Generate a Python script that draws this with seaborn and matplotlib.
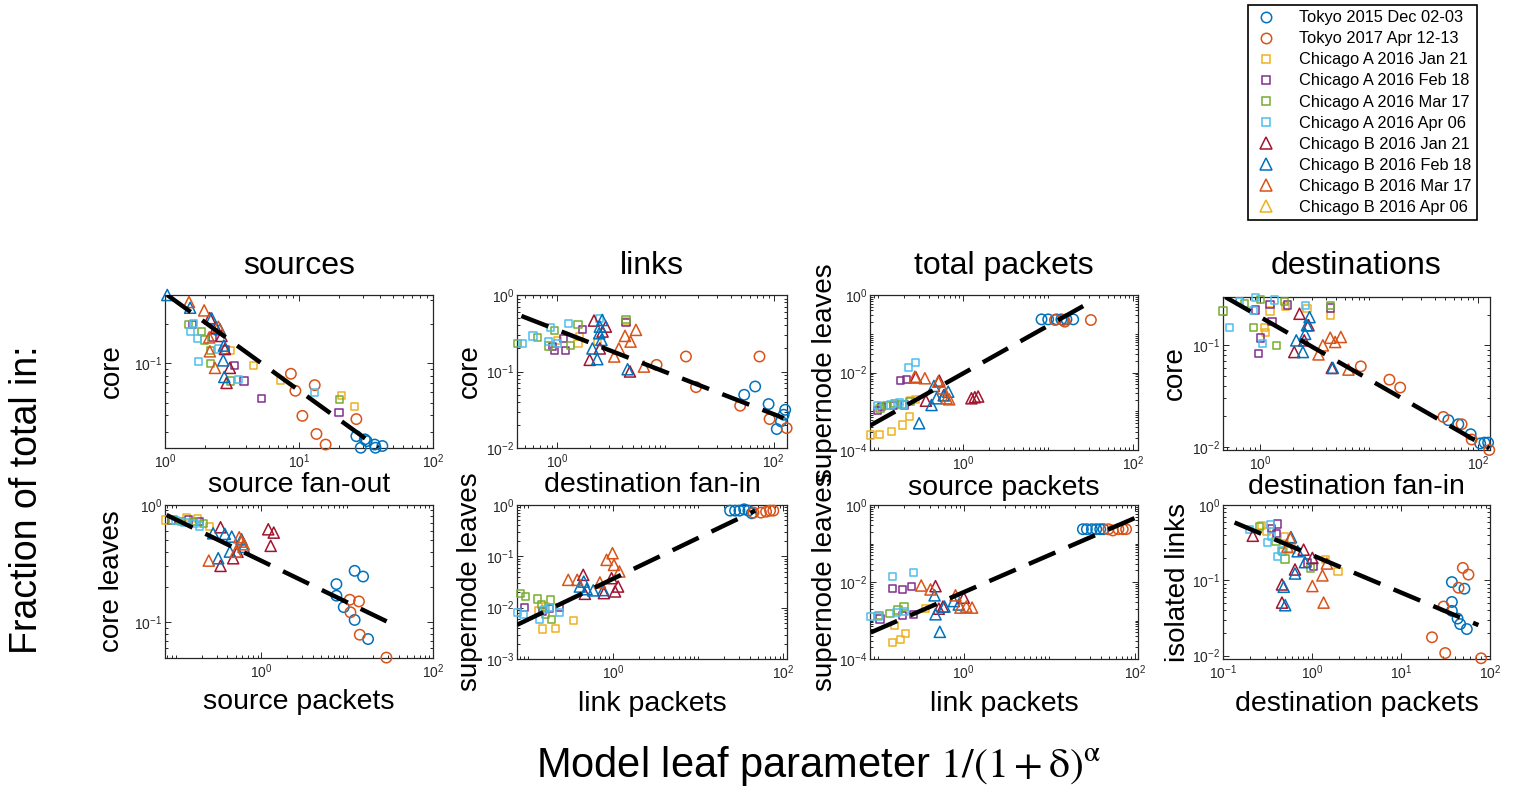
import numpy as np
import matplotlib
matplotlib.use("Agg")
import matplotlib.pyplot as plt
from matplotlib.lines import Line2D
from matplotlib.ticker import FixedLocator, LogLocator, FuncFormatter, NullFormatter
import seaborn as sns

sns.set_style("ticks")
plt.rcParams["font.family"] = ["Liberation Sans", "DejaVu Sans"]
plt.rcParams["mathtext.fontset"] = "custom"
plt.rcParams["mathtext.rm"] = "Liberation Sans"
plt.rcParams["mathtext.it"] = "Liberation Sans:italic"
plt.rcParams["mathtext.bf"] = "Liberation Sans:bold"
plt.rcParams["text.color"] = "black"
plt.rcParams["axes.labelcolor"] = "black"

# ---------------------------------------------------------------- series
SERIES = ["T15", "T17", "AJan", "AFeb", "AMar", "AApr", "BJan", "BFeb", "BMar", "BApr"]
LABELS = {
    "T15": "Tokyo 2015 Dec 02-03", "T17": "Tokyo 2017 Apr 12-13",
    "AJan": "Chicago A 2016 Jan 21", "AFeb": "Chicago A 2016 Feb 18",
    "AMar": "Chicago A 2016 Mar 17", "AApr": "Chicago A 2016 Apr 06",
    "BJan": "Chicago B 2016 Jan 21", "BFeb": "Chicago B 2016 Feb 18",
    "BMar": "Chicago B 2016 Mar 17", "BApr": "Chicago B 2016 Apr 06",
}
COLORS = {
    "T15": "#0072BD", "T17": "#D95319",
    "AJan": "#EDB120", "AFeb": "#7E2F8E", "AMar": "#77AC30", "AApr": "#4DBEEE",
    "BJan": "#A2142F", "BFeb": "#0072BD", "BMar": "#D95319", "BApr": "#EDB120",
}
MARKERS = {k: ("o" if k.startswith("T") else "s" if k.startswith("A") else "^") for k in SERIES}
SIZES = {"o": 56, "s": 27, "^": 64}

# ---------------------------------------------------------------- data
# sources: core vs source fan-out
src_core = {
    "T15": ([26.8, 31, 36.7, 28.9, 37.2, 41.9, 32], [0.0278, 0.0263, 0.024, 0.0227, 0.0227, 0.0234, 0.0255]),
    "T17": ([8.7, 9.4, 13.1, 10.6, 13.5, 15.8, 26.8], [0.083, 0.0616, 0.068, 0.0397, 0.0289, 0.024, 0.0375]),
    "AJan": ([3.1, 4.55, 7.28, 20.7, 26.1], [0.125, 0.096, 0.074, 0.057, 0.0467]),
    "AFeb": ([1.6, 2.27, 2.8, 3.32, 3.88, 5.25, 19.9], [0.197, 0.157, 0.126, 0.096, 0.073, 0.054, 0.042]),
    "AMar": ([1.49, 1.88, 1.96, 2.19, 2.2, 3.09, 20.1], [0.197, 0.174, 0.15, 0.125, 0.1, 0.073, 0.053]),
    "AApr": ([1.64, 1.56, 1.75, 1.79, 2.5, 3.52, 13.1], [0.2, 0.175, 0.155, 0.103, 0.128, 0.075, 0.0594]),
    "BJan": ([2.16, 2.4, 2.64, 2.8, 3.05, 2.88], [0.22, 0.186, 0.161, 0.128, 0.092, 0.0707]),
    "BFeb": ([1.04, 1.54, 2.23, 2.57, 2.75, 2.72, 2.77], [0.33, 0.264, 0.219, 0.181, 0.136, 0.105, 0.0785]),
    "BMar": ([1.51, 1.96, 2.5, 2.14, 2.16, 2.36], [0.292, 0.252, 0.189, 0.157, 0.123, 0.092]),
}
src_core_fit = ([1.04, 38.9], [0.33, 0.0227])

# links: core vs destination fan-in
lnk_core = {
    "T15": ([53.5, 67.6, 89.9, 107, 117, 124, 128], [0.0496, 0.0637, 0.0375, 0.0177, 0.0223, 0.0272, 0.0316]),
    "T17": ([8.3, 15.5, 19.2, 49.1, 74.1, 91.8, 132], [0.122, 0.157, 0.0625, 0.0357, 0.157, 0.0239, 0.0182]),
    "AJan": ([1.0, 1.62, 2.35, 4.32, 1.56], [0.254, 0.29, 0.246, 0.45, 0.234]),
    "AFeb": ([0.95, 1.2, 1.15, 1.72, 4.32, 0.9], [0.19, 0.188, 0.272, 0.35, 0.436, 0.212]),
    "AMar": ([0.43, 0.66, 0.94, 0.83, 1.34, 1.56, 4.32], [0.234, 0.28, 0.343, 0.216, 0.22, 0.414, 0.48]),
    "AApr": ([0.477, 0.6, 0.87, 0.83, 1.0, 1.28, 2.48], [0.23, 0.292, 0.379, 0.246, 0.234, 0.427, 0.496]),
    "BJan": ([2.0, 2.19, 2.48, 2.82, 4.71, 2.63], [0.142, 0.463, 0.2, 0.386, 0.1, 0.333]),
    "BFeb": ([2.35, 2.12, 2.45, 2.61, 2.57, 4.48, 2.48], [0.145, 0.2, 0.316, 0.472, 0.259, 0.107, 0.386]),
    "BMar": ([3.37, 3.72, 4.24, 4.77, 5.35, 6.34], [0.157, 0.2, 0.292, 0.246, 0.35, 0.116]),
}
lnk_core_fit = ([0.468, 124], [0.532, 0.0246])

# total packets: supernode leaves vs source packets
pkt_super = {
    "T15": ([8.35, 10, 12.5, 14.3, 16.4, 19.7], [0.235, 0.235, 0.235, 0.235, 0.235, 0.235]),
    "T17": ([12, 15, 15.7, 31.8], [0.226, 0.226, 0.205, 0.226]),
    "AJan": ([0.0805, 0.103, 0.144, 0.191, 0.231, 0.24, 0.277], [2.44e-4, 2.5e-4, 2.97e-4, 4.42e-4, 7.24e-4, 1.87e-3, 2.03e-3]),
    "AFeb": ([0.0973, 0.11, 0.15, 0.183, 0.202, 0.215], [1.03e-3, 1.3e-3, 1.38e-3, 6.15e-3, 1.45e-3, 6.67e-3]),
    "AMar": ([0.105, 0.125, 0.157, 0.19, 0.236], [1.19e-3, 1.38e-3, 1.6e-3, 1.5e-3, 1.8e-3]),
    "AApr": ([0.097, 0.14, 0.177, 0.2, 0.225, 0.277], [1.38e-3, 1.45e-3, 1.7e-3, 1.45e-3, 0.0136, 0.018]),
    "BJan": ([0.277, 0.364, 0.522, 0.59, 1.25, 1.37, 1.5], [7.5e-3, 1.87e-3, 6.15e-3, 2.6e-3, 2.16e-3, 2.3e-3, 2.4e-3]),
    "BFeb": ([0.303, 0.424, 0.452, 0.485, 0.666, 0.6], [4.9e-4, 1.45e-3, 4.5e-3, 2.16e-3, 3.2e-3, 2.6e-3]),
    "BMar": ([0.27, 0.354, 0.508, 0.572, 0.637, 0.684], [7.8e-3, 7.1e-3, 5.8e-3, 3.9e-3, 2.16e-3, 2.03e-3]),
}
pkt_super_fit = ([0.08, 30.4], [4.25e-4, 0.634])

# destinations: core vs destination fan-in
dst_core = {
    "T15": ([53.1, 65.6, 85.1, 104, 114, 123], [0.0183, 0.0167, 0.0133, 0.0108, 0.011, 0.011]),
    "T17": ([8.36, 15.3, 19.2, 47.8, 70.3, 86.9, 126], [0.0621, 0.0459, 0.0384, 0.0197, 0.0167, 0.0118, 0.0093]),
    "AJan": ([1.1, 1.11, 1.23, 1.69, 2.68, 4.38], [0.151, 0.135, 0.218, 0.242, 0.23, 0.197]),
    "AFeb": ([0.906, 1.01, 0.97, 1.23, 1.28, 1.78, 4.43], [0.223, 0.118, 0.083, 0.253, 0.173, 0.25, 0.234]),
    "AMar": ([0.455, 0.713, 1.0, 0.87, 1.4, 1.67, 4.38], [0.218, 0.261, 0.283, 0.151, 0.1, 0.273, 0.247]),
    "AApr": ([0.52, 0.647, 0.906, 0.87, 1.04, 1.34, 2.62], [0.151, 0.273, 0.294, 0.221, 0.104, 0.28, 0.247]),
    "BJan": ([2.05, 2.29, 2.53, 2.77, 4.53], [0.086, 0.205, 0.112, 0.158, 0.06]),
    "BFeb": ([2.14, 2.46, 2.58, 2.68, 2.83, 4.63], [0.112, 0.086, 0.13, 0.158, 0.19, 0.06]),
    "BMar": ([3.42, 3.75, 4.38, 4.86, 5.48, 6.44], [0.0815, 0.1, 0.119, 0.108, 0.121, 0.0577]),
}
dst_core_fit = ([0.478, 126], [0.30, 0.00964])

# core leaves vs source packets
src_leaves = {
    "T15": ([7.48, 7.48, 9.1, 12.2, 12.2, 15.3, 17.5], [0.212, 0.169, 0.135, 0.275, 0.105, 0.246, 0.0722]),
    "T17": ([10.7, 10.9, 13.7, 14, 28.6], [0.156, 0.122, 0.151, 0.0786, 0.0502]),
    "AJan": ([0.0755, 0.134, 0.178, 0.25], [0.746, 0.786, 0.77, 0.655]),
    "AFeb": ([0.0895, 0.14, 0.19], [0.736, 0.746, 0.72]),
    "AMar": ([0.093, 0.117, 0.16, 0.21], [0.746, 0.72, 0.72, 0.699]),
    "AApr": ([0.1, 0.128, 0.19, 0.167], [0.736, 0.71, 0.663, 0.699]),
    "BJan": ([0.333, 0.333, 0.468, 1.2, 1.39, 1.28, 0.525], [0.646, 0.303, 0.352, 0.621, 0.582, 0.449, 0.4]),
    "BFeb": ([0.313, 0.273, 0.374, 0.428, 0.45, 0.585, 0.62], [0.352, 0.574, 0.567, 0.401, 0.538, 0.51, 0.44]),
    "BMar": ([0.243, 0.502, 0.55, 0.585, 0.623], [0.336, 0.4, 0.531, 0.488, 0.463]),
}
src_leaves_fit = ([0.0782, 34.8], [0.822, 0.0955])

# supernode leaves vs link packets (links column)
lnk_super = {
    "T15": ([23.6, 27.0, 30.4, 34.5, 38.7, 42.4], [0.776, 0.776, 0.776, 0.824, 0.776, 0.689]),
    "T17": ([44.4, 54.3, 62.5, 69.6, 76.0], [0.71, 0.71, 0.74, 0.776, 0.776]),
    "AJan": ([0.134, 0.148, 0.161, 0.211, 0.338], [8.8e-3, 3.83e-3, 0.0106, 3.98e-3, 5.56e-3]),
    "AFeb": ([0.091, 0.148, 0.18, 0.236], [0.0102, 8.4e-3, 9.8e-3, 0.0102]),
    "AMar": ([0.0813, 0.094, 0.128, 0.185, 0.161, 0.19, 0.144], [0.0186, 0.0165, 0.0147, 0.0141, 7.27e-3, 5.8e-3, 0.0114]),
    "AApr": ([0.075, 0.089, 0.135, 0.157, 0.18, 0.236], [8.07e-3, 7.27e-3, 6e-3, 9.1e-3, 0.0102, 8.07e-3]),
    "BJan": ([0.444, 0.464, 0.955, 1.05, 1.14, 0.777], [0.0436, 0.0186, 0.0375, 0.0207, 0.0258, 0.0192]),
    "BFeb": ([0.405, 0.45, 0.486, 0.582, 0.763], [0.0258, 0.0322, 0.0229, 0.0217, 0.022]),
    "BMar": ([0.296, 0.377, 0.835, 0.98, 1.02, 1.18, 0.697], [0.0348, 0.0348, 0.0853, 0.115, 0.068, 0.0506, 0.031]),
}
lnk_super_fit = ([0.0742, 46.4], [4.64e-3, 0.776])

# supernode leaves vs link packets (total packets column)
pkt_lnk_super = {
    "T15": ([24.7, 27.5, 31.5, 35.4, 39.4, 43.1], [0.235, 0.235, 0.235, 0.235, 0.235, 0.235]),
    "T17": ([49.1, 55.3, 64.3, 72.3, 79.1], [0.235, 0.218, 0.235, 0.235, 0.235]),
    "AJan": ([0.146, 0.155, 0.182, 0.209, 0.357], [2.7e-4, 7.5e-4, 3.16e-4, 4.7e-4, 2.03e-3]),
    "AFeb": ([0.105, 0.146, 0.19, 0.245, 0.19, 0.256], [1.1e-3, 6.67e-3, 6.4e-3, 7.5e-3, 1.38e-3, 1.45e-3]),
    "AMar": ([0.102, 0.137, 0.17, 0.2], [1.38e-3, 1.54e-3, 1.87e-3, 2.3e-3]),
    "AApr": ([0.081, 0.099, 0.146, 0.164, 0.256, 0.2], [1.26e-3, 1.3e-3, 0.0136, 1.6e-3, 0.018, 1.7e-3]),
    "BJan": ([0.467, 0.51, 1.0, 0.57], [7.8e-3, 2.03e-3, 3.9e-3, 2.3e-3]),
    "BFeb": ([0.455, 0.467, 0.524, 0.595, 0.764, 0.874], [4.5e-3, 1.45e-3, 5.07e-4, 2.3e-3, 3.2e-3, 2.6e-3]),
    "BMar": ([0.318, 0.408, 0.8, 0.914, 1.07, 1.25], [8.1e-3, 6.4e-3, 4.5e-3, 2.16e-3, 2.3e-3, 2.16e-3]),
}
pkt_lnk_super_fit = ([0.0814, 105], [4.88e-4, 0.48])

# isolated links vs destination packets
dst_iso = {
    "T15": ([37.3, 37.3, 37.3, 43.2, 46.2, 51.6, 54.9], [0.0946, 0.0515, 0.0392, 0.031, 0.0262, 0.0773, 0.0225]),
    "T17": ([22.3, 30.1, 31.4, 44.3, 49.5, 57.3, 79.4], [0.0175, 0.0448, 0.0108, 0.0796, 0.146, 0.119, 0.0092]),
    "AJan": ([0.269, 0.306, 0.49, 1.43, 1.96, 0.58], [0.528, 0.445, 0.382, 0.188, 0.132, 0.254]),
    "AFeb": ([0.412, 0.353, 0.4, 1.04, 0.89], [0.561, 0.49, 0.42, 0.154, 0.17]),
    "AMar": ([0.257, 0.395, 0.497, 0.955, 0.47], [0.518, 0.33, 0.192, 0.146, 0.24]),
    "AApr": ([0.199, 0.341, 0.318, 0.412, 0.45, 0.35], [0.468, 0.545, 0.318, 0.208, 0.25, 0.38]),
    "BJan": ([0.216, 0.46, 0.46, 0.644, 0.805, 1.01], [0.39, 0.088, 0.0505, 0.139, 0.255, 0.198]),
    "BFeb": ([0.481, 0.5, 0.58, 0.644, 0.69, 0.834], [0.082, 0.0466, 0.375, 0.123, 0.243, 0.174]),
    "BMar": ([0.57, 1.01, 1.31, 1.35, 1.47, 0.53], [0.363, 0.0838, 0.116, 0.0505, 0.167, 0.28]),
}
dst_iso_fit = ([0.135, 74.1], [0.585, 0.0254])

# ---------------------------------------------------------------- panels
W, H = 1520, 790


def box(l, t, r, b):
    return [l / W, 1 - b / H, (r - l) / W, (b - t) / H]


PANELS = [
    dict(pos=box(165, 295, 433, 448), data=src_core, fit=src_core_fit, title="sources",
         xlabel="source fan-out", ylabel="core", xlim=(1, 100), ylim=(0.0226, 0.33),
         xt=[1, 10, 100], yt=[0.1], row=0, ylx=-0.149),
    dict(pos=box(517, 295, 787, 448), data=lnk_core, fit=lnk_core_fit, title="links",
         xlabel="destination fan-in", ylabel="core", xlim=(0.426, 133), ylim=(0.01, 1),
         xt=[1, 100], yt=[0.01, 0.1, 1], row=0, ylx=-0.126),
    dict(pos=box(870, 295, 1138, 450), data=pkt_super, fit=pkt_super_fit, title="total packets",
         xlabel="source packets", ylabel="supernode leaves", xlim=(0.08, 114), ylim=(1e-4, 1),
         xt=[1, 100], yt=[1e-4, 1e-2, 1], row=0, ylx=-0.118),
    dict(pos=box(1223, 297, 1490, 450), data=dst_core, fit=dst_core_fit, title="destinations",
         xlabel="destination fan-in", ylabel="core", xlim=(0.455, 128), ylim=(0.0093, 0.30),
         xt=[1, 100], yt=[0.01, 0.1], row=0, ylx=-0.131),
    dict(pos=box(165, 505, 433, 658), data=src_leaves, fit=src_leaves_fit, title=None,
         xlabel="source packets", ylabel="core leaves", xlim=(0.075, 100), ylim=(0.0498, 1),
         xt=[1, 100], yt=[0.1, 1], row=1, ylx=-0.149),
    dict(pos=box(517, 505, 787, 659), data=lnk_super, fit=lnk_super_fit, title=None,
         xlabel="link packets", ylabel="supernode leaves", xlim=(0.074, 110), ylim=(1e-3, 1),
         xt=[1, 100], yt=[1e-3, 1e-2, 1e-1, 1], row=1, ylx=-0.126),
    dict(pos=box(870, 505, 1138, 659), data=pkt_lnk_super, fit=pkt_lnk_super_fit, title=None,
         xlabel="link packets", ylabel="supernode leaves", xlim=(0.08, 109), ylim=(1e-4, 1),
         xt=[1, 100], yt=[1e-4, 1e-2, 1], row=1, ylx=-0.118),
    dict(pos=box(1223, 505, 1490, 659), data=dst_iso, fit=dst_iso_fit, title=None,
         xlabel="destination packets", ylabel="isolated links", xlim=(0.1, 100), ylim=(0.009, 1),
         xt=[0.1, 1, 10, 100], yt=[0.01, 0.1, 1], row=1, ylx=-0.12),
]

INK = "#262626"
pow10 = FuncFormatter(lambda v, _: r"$10^{%d}$" % int(round(np.log10(v))))

fig = plt.figure(figsize=(W / 100, H / 100), dpi=100)

for p in PANELS:
    ax = fig.add_axes(p["pos"])
    ax.set_xscale("log")
    ax.set_yscale("log")
    for key in SERIES:
        if key not in p["data"]:
            continue
        xs, ys = p["data"][key]
        m = MARKERS[key]
        sns.scatterplot(x=xs, y=ys, ax=ax, marker=m, s=SIZES[m], facecolors="none",
                        edgecolor=COLORS[key], linewidth=1.1, clip_on=False, zorder=3)
    fx, fy = p["fit"]
    sns.lineplot(x=fx, y=fy, ax=ax, color="black", linewidth=3.2,
                 linestyle=(0, (6.5, 3.2)), zorder=5)

    ax.set_xlim(*p["xlim"])
    ax.set_ylim(*p["ylim"])
    ax.xaxis.set_major_locator(FixedLocator(p["xt"]))
    ax.yaxis.set_major_locator(FixedLocator(p["yt"]))
    ax.xaxis.set_minor_locator(LogLocator(base=10, subs=np.arange(1, 10), numticks=30))
    ax.yaxis.set_minor_locator(LogLocator(base=10, subs=np.arange(1, 10), numticks=30))
    ax.xaxis.set_major_formatter(pow10)
    ax.yaxis.set_major_formatter(pow10)
    ax.xaxis.set_minor_formatter(NullFormatter())
    ax.yaxis.set_minor_formatter(NullFormatter())
    ax.tick_params(which="both", direction="in", top=True, right=True,
                   color=INK, labelcolor=INK, labelsize=10, width=0.7)
    ax.tick_params(which="major", length=4)
    ax.tick_params(which="minor", length=2.2)
    ax.tick_params(axis="y", which="major", pad=2)
    for s in ax.spines.values():
        s.set_color(INK)
        s.set_linewidth(0.9)

    if p["title"]:
        top_px = (1 - p["pos"][1] - p["pos"][3]) * H
        ax.set_title(p["title"], fontsize=23, pad=15 + (top_px - 295) / 1.39)
    ax.set_xlabel(p["xlabel"], fontsize=20.5)
    ax.set_ylabel(p["ylabel"], fontsize=20)
    ax.xaxis.set_label_coords(0.5, -0.16 if p["row"] == 0 else -0.205)
    ax.yaxis.set_label_coords(p["ylx"], 0.5)

# shared labels
fig.text(27 / W, 1 - 500 / H, "Fraction of total in:", rotation=90,
         ha="center", va="center", fontsize=27)
fig.text(819 / W, 1 - 766 / H, r"Model leaf parameter $\mathrm{1/(1+\delta)^{\alpha}}$",
         ha="center", va="center", fontsize=30, math_fontfamily="stix")

# legend
handles = [Line2D([], [], ls="none", marker=MARKERS[k],
                  markersize=7.5 if MARKERS[k] == "o" else 5.5 if MARKERS[k] == "s" else 8,
                  markerfacecolor="none", markeredgecolor=COLORS[k], markeredgewidth=1.1)
           for k in SERIES]
leg = fig.legend(handles, [LABELS[k] for k in SERIES], loc="upper left",
                 bbox_to_anchor=(1248 / W, 1 - 5 / H), borderaxespad=0, fontsize=11.8,
                 frameon=True, fancybox=False, framealpha=1, edgecolor="black",
                 borderpad=0.32, labelspacing=0.37, handlelength=1.5, handletextpad=1.3)
leg.get_frame().set_linewidth(1.2)

fig.savefig("out.png", dpi=100)
